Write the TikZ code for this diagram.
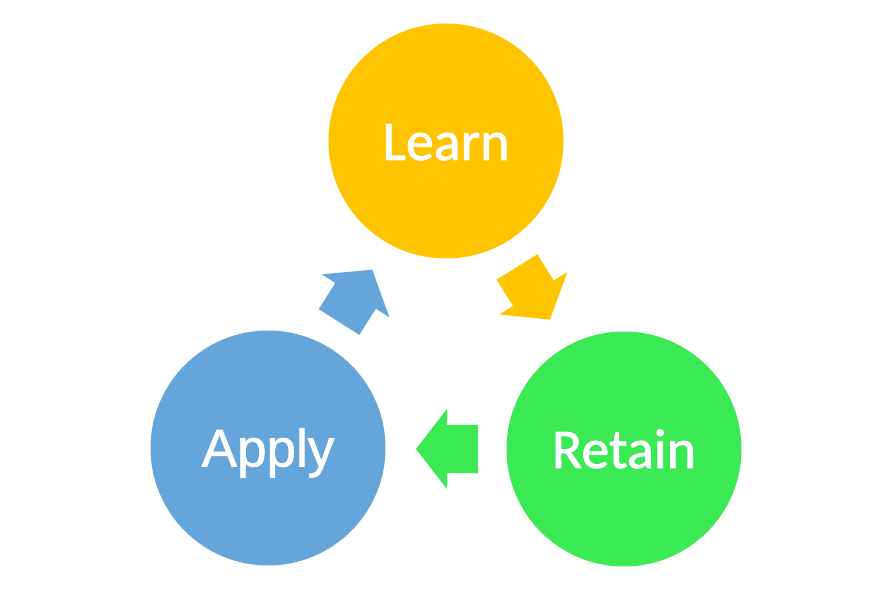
\documentclass[tikz,border=0pt]{standalone}
\usepackage{fontspec}
\setmainfont{Carlito}
\newfontfamily\calfont{Carlito}[UprightFeatures={FakeBold=1.3}]
\newfontfamily\arialfont{Liberation Sans}[UprightFeatures={FakeBold=1.2}]
\definecolor{learnyellow}{HTML}{FFC400}
\definecolor{retaingreen}{HTML}{3BE955}
\definecolor{applyblue}{HTML}{66A5D9}
\tikzset{
  stage/.style={circle, minimum size=235pt, inner sep=0pt, text=white, text height=38pt, text depth=0pt},
  blockarrow/.pic={\fill[#1] (0,-24) -- (31,-24) -- (31,-40) -- (62,0) -- (31,40) -- (31,24) -- (0,24) -- cycle;}
}
\begin{document}
\begin{tikzpicture}[x=1pt,y=1pt]
\useasboundingbox[fill=white] (0,0) rectangle (889,595);
\node[stage, fill=learnyellow, font=\calfont\fontsize{56}{60}\selectfont] (learn) at (446,454) {Learn};
\node[stage, fill=retaingreen, font=\calfont\fontsize{56}{60}\selectfont] (retain) at (624,146) {Retain};
\node[stage, fill=applyblue, font=\arialfont\fontsize{53}{58}\selectfont, text height=37pt] (apply) at (268,147) {Apply};
\coordinate (a1) at (517,328);
\coordinate (a2) at (478,146);
\coordinate (a3) at (339,273);
\pic[rotate=-58] at (a1) {blockarrow=learnyellow};
\pic[rotate=180] at (a2) {blockarrow=retaingreen};
\pic[rotate=57.6] at (a3) {blockarrow=applyblue};
\end{tikzpicture}
\end{document}
